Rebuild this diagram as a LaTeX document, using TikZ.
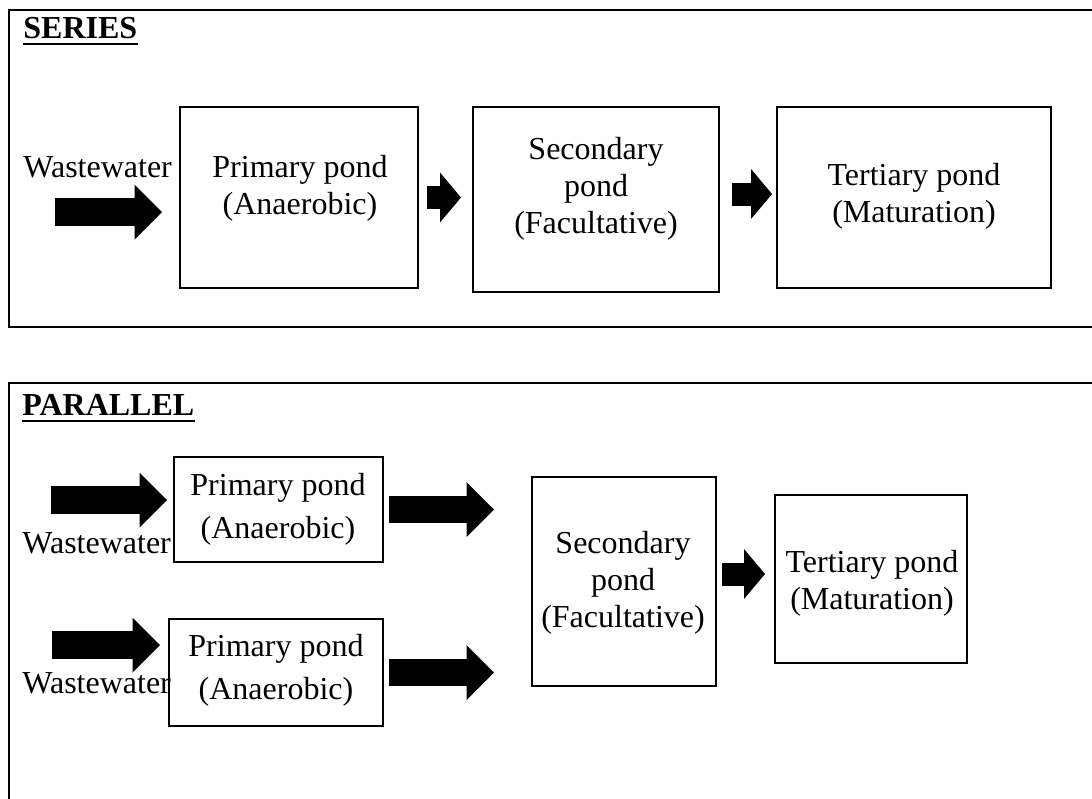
\documentclass[tikz,border=0pt]{standalone}
\usepackage{fontspec}
\setmainfont{Liberation Serif}
\usetikzlibrary{arrows.meta}

\begin{document}
\begin{tikzpicture}[x=0.5pt,y=-0.5pt,
  frame/.style={line width=1.1pt},
  pond/.style={draw,line width=0.8pt,inner sep=0pt,outer sep=0pt},
  txt/.style={align=center,inner sep=0pt,font=\fontsize{16}{18.5}\selectfont},
  widetxt/.style={txt,font=\fontsize{16}{21.5}\selectfont},
  head/.style={anchor=base west,inner sep=0pt,font=\fontsize{16}{18.5}\selectfont\bfseries},
  uline/.style={line width=1.4pt},
  bigflow/.style={line width=13.75pt,-{Triangle[length=13.75pt,width=27.5pt,line width=0pt]}},
  smallflow/.style={line width=11.5pt,-{Triangle[length=10.5pt,width=25pt,line width=0pt]}}]
\path[use as bounding box,clip] (0,0) rectangle (1092,798);

\draw[frame] (9,10) rectangle (1110,327);
\draw[frame] (9,383) rectangle (1110,820);

% series
\node[head] (serieshd) at (23,38) {SERIES};
\draw[uline] ([yshift=-3pt]serieshd.base west) -- ([yshift=-3pt]serieshd.base east);
\node[pond,minimum width=119pt,minimum height=90.5pt] (p1) at (299,197.5) {};
\node[pond,minimum width=123pt,minimum height=92.5pt] (s1) at (596,199.5) {};
\node[pond,minimum width=137pt,minimum height=90.5pt] (t1) at (914,197.5) {};
\node[txt] (p1t) at (300,188.5) {Primary pond\\(Anaerobic)};
\node[txt] (s1t) at (596,189) {Secondary\\pond\\(Facultative)};
\node[txt] (t1t) at (914,196) {Tertiary pond\\(Maturation)};
\node[txt,anchor=base west] (ww1t) at (23,177) {Wastewater};
\coordinate (ww1) at (55,212);
\draw[bigflow,shorten >=9pt] (ww1) -- (ww1 -| p1.west);
\draw[smallflow,shorten <=4.5pt,shorten >=6pt] (p1.east) -- (p1.east -| s1.west);
\draw[smallflow,shorten <=6.5pt,shorten >=2.5pt] ([yshift=2.75pt]s1.east) -- ([yshift=2.75pt]s1.east -| t1.west);

% parallel
\node[head] (parallelhd) at (22,415) {PARALLEL};
\draw[uline] ([yshift=-3pt]parallelhd.base west) -- ([yshift=-3pt]parallelhd.base east);
\node[pond,minimum width=104.5pt,minimum height=52.5pt] (pa) at (278.5,509.5) {};
\node[pond,minimum width=107pt,minimum height=53.5pt] (pb) at (276,672.5) {};
\node[pond,minimum width=92pt,minimum height=104.5pt] (s2) at (624,581.5) {};
\node[pond,minimum width=96pt,minimum height=84pt] (t2) at (871,579) {};
\node[widetxt] (pat) at (278,509) {Primary pond\\(Anaerobic)};
\node[widetxt] (pbt) at (276,670) {Primary pond\\(Anaerobic)};
\node[txt] (s2t) at (623,583) {Secondary\\pond\\(Facultative)};
\node[txt] (t2t) at (872,583.5) {Tertiary pond\\(Maturation)};
\node[txt,anchor=base west] (ww2t) at (22,553) {Wastewater};
\node[txt,anchor=base west] (ww3t) at (22,693) {Wastewater};
\coordinate (ww2) at (51,500);
\coordinate (ww3) at (52,645);
\draw[bigflow,shorten >=3.5pt] (ww2) -- (ww2 -| pa.west);
\draw[bigflow,shorten >=4.5pt] (ww3) -- (ww3 -| pb.west);
\draw[bigflow,shorten <=3pt,shorten >=19pt] (pa.east) -- (pa.east -| s2.west);
\draw[bigflow,shorten <=3pt,shorten >=19pt] (pb.east) -- (pb.east -| s2.west);
\draw[smallflow,shorten <=3pt,shorten >=5pt] ([yshift=3.75pt]s2.east) -- ([yshift=3.75pt]s2.east -| t2.west);
\end{tikzpicture}
\end{document}
